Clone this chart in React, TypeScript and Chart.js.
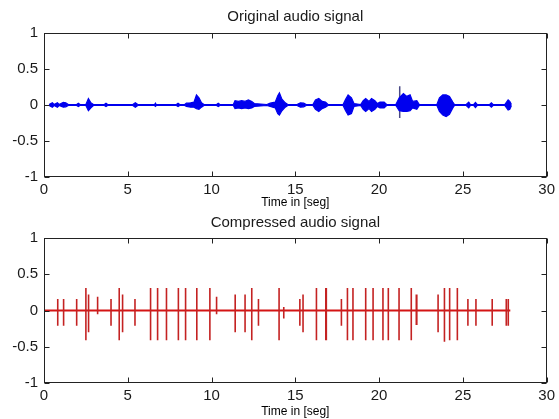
import React, { useEffect, useRef } from "react";
import { Chart, registerables } from "chart.js";

Chart.register(...registerables);

// ---------- data ----------
const xTicks = [0, 5, 10, 15, 20, 25, 30];
const yTicks = [-1, -0.5, 0, 0.5, 1];

const topTitle = "Original audio signal";
const bottomTitle = "Compressed audio signal";
const xLabel = "Time in [seg]";

// Envelope of the original audio signal (time in s, upper and lower amplitude)
const sigT = [
  0.3, 0.5, 0.6, 0.8, 0.9, 1.15, 1.3, 1.45, 1.95, 2.05, 2.15, 2.5, 2.65, 2.8, 2.95,
  3.6, 3.7, 3.8, 5.3, 5.45, 5.6, 6.6, 6.65, 6.7, 7.9, 8.0, 8.1, 8.4, 8.5, 8.75, 8.95,
  9.1, 9.25, 9.4, 9.55, 10.3, 10.4, 10.5, 11.3, 11.4, 11.6, 11.8, 12.0, 12.2, 12.4,
  12.55, 13.3, 13.5, 13.8, 13.95, 14.05, 14.2, 14.4, 14.55, 15.1, 15.3, 15.5, 15.65,
  16.05, 16.2, 16.4, 16.6, 16.8, 16.95, 17.85, 18.0, 18.15, 18.35, 18.5, 18.9, 19.05,
  19.2, 19.4, 19.55, 19.75, 19.9, 20.05, 20.3, 20.45, 21.0, 21.2, 21.45, 21.65, 21.85,
  22.0, 22.25, 22.4, 23.45, 23.6, 23.8, 24.0, 24.2, 24.4, 24.5, 25.2, 25.35, 25.45,
  25.65, 25.75, 25.85, 26.6, 26.7, 26.8, 27.5, 27.7, 27.8, 27.9,
];
const sigUp = [
  0.007, 0.03, 0.007, 0.03, 0.007, 0.035, 0.03, 0.007, 0.007, 0.025, 0.007, 0.007, 0.09, 0.03, 0.007,
  0.007, 0.025, 0.007, 0.007, 0.03, 0.007, 0.007, 0.025, 0.007, 0.007, 0.025, 0.007, 0.007, 0.025, 0.03, 0.04,
  0.14, 0.1, 0.03, 0.007, 0.007, 0.025, 0.007, 0.007, 0.06, 0.05, 0.06, 0.05, 0.07, 0.05,
  0.02, 0.007, 0.025, 0.04, 0.13, 0.17, 0.08, 0.03, 0.007, 0.007, 0.03, 0.025, 0.007,
  0.007, 0.07, 0.09, 0.05, 0.04, 0.007, 0.007, 0.08, 0.14, 0.1, 0.02, 0.007, 0.06,
  0.09, 0.05, 0.09, 0.06, 0.02, 0.04, 0.04, 0.007, 0.007, 0.1, 0.16, 0.12, 0.14,
  0.05, 0.06, 0.007, 0.007, 0.1, 0.14, 0.14, 0.12, 0.04, 0.007, 0.007, 0.04, 0.007,
  0.007, 0.035, 0.007, 0.007, 0.03, 0.007, 0.007, 0.07, 0.05, 0.007,
];
const sigDown = [
  -0.007, -0.03, -0.007, -0.03, -0.007, -0.03, -0.025, -0.007, -0.007, -0.02, -0.007, -0.007, -0.08, -0.04, -0.007,
  -0.007, -0.02, -0.007, -0.007, -0.03, -0.007, -0.007, -0.02, -0.007, -0.007, -0.02, -0.007, -0.007, -0.02, -0.03, -0.03,
  -0.05, -0.06, -0.03, -0.007, -0.007, -0.02, -0.007, -0.007, -0.05, -0.04, -0.05, -0.04, -0.05, -0.04,
  -0.02, -0.007, -0.02, -0.04, -0.12, -0.14, -0.08, -0.03, -0.007, -0.007, -0.03, -0.025, -0.007,
  -0.007, -0.06, -0.09, -0.05, -0.03, -0.007, -0.007, -0.08, -0.14, -0.12, -0.02, -0.007, -0.06,
  -0.09, -0.05, -0.09, -0.06, -0.02, -0.04, -0.04, -0.007, -0.007, -0.08, -0.09, -0.09, -0.08,
  -0.04, -0.06, -0.007, -0.007, -0.09, -0.14, -0.16, -0.13, -0.04, -0.007, -0.007, -0.04, -0.007,
  -0.007, -0.035, -0.007, -0.007, -0.03, -0.007, -0.007, -0.07, -0.06, -0.007,
];

// Single click/transient in the original signal
const clickT = [21.23];
const clickUp = [0.26];
const clickDown = [-0.18];

// Compressed signal: baseline extent and spikes
const compBaseT = [0, 27.83];
const spikeT = [
  0.82, 1.17, 1.95, 2.5, 2.66, 3.2, 4.0, 4.49, 4.69, 5.43, 6.36, 6.78, 7.31, 8.02, 8.45,
  9.12, 9.9, 10.3, 11.41, 12.0, 12.4, 12.8, 14.03, 14.31, 15.27, 15.46, 16.26, 16.82, 16.85,
  17.75, 18.11, 18.44, 19.2, 19.64, 20.23, 20.55, 21.19, 21.92, 22.22, 22.25, 23.52, 23.9,
  24.21, 24.67, 25.3, 25.78, 26.75, 27.59, 27.71,
];
const spikeUp = [
  0.16, 0.16, 0.16, 0.31, 0.22, 0.19, 0.16, 0.31, 0.22, 0.16, 0.31, 0.31, 0.31, 0.31, 0.31,
  0.31, 0.31, 0.19, 0.22, 0.22, 0.31, 0.16, 0.31, 0.05, 0.16, 0.22, 0.31, 0.31, 0.31,
  0.16, 0.31, 0.31, 0.31, 0.31, 0.31, 0.31, 0.31, 0.31, 0.22, 0.22, 0.22, 0.31,
  0.31, 0.31, 0.16, 0.16, 0.16, 0.16, 0.16,
];
const spikeDown = [
  -0.21, -0.21, -0.21, -0.41, -0.3, -0.05, -0.21, -0.41, -0.3, -0.21, -0.41, -0.41, -0.41, -0.41, -0.41,
  -0.41, -0.41, -0.05, -0.3, -0.3, -0.41, -0.21, -0.41, -0.11, -0.21, -0.3, -0.41, -0.41, -0.41,
  -0.21, -0.41, -0.41, -0.41, -0.41, -0.41, -0.41, -0.41, -0.41, -0.2, -0.2, -0.3, -0.43,
  -0.41, -0.41, -0.21, -0.21, -0.21, -0.21, -0.21,
];

// ---------- styling ----------
const FONT = "'Liberation Sans', Arial, Helvetica, sans-serif";
const TEXT = "#1a1a1a";
const BLUE = "#0000ee";
const RED = "#d41414";
const SPIKE = "#c42222";

const boxTicks = {
  id: "boxTicks",
  afterDatasetsDraw(chart: any) {
    const { ctx, chartArea: a, scales } = chart;
    ctx.save();
    ctx.strokeStyle = "#222";
    ctx.lineWidth = 1;
    const L = Math.round(a.left) + 0.5;
    const R = Math.round(a.right) - 0.5;
    const T = Math.round(a.top) + 0.5;
    const B = Math.round(a.bottom) - 0.5;
    ctx.strokeRect(L, T, R - L, B - T);
    ctx.beginPath();
    for (const v of xTicks) {
      const x = Math.round(scales.x.getPixelForValue(v)) + 0.5;
      ctx.moveTo(x, B);
      ctx.lineTo(x, B - 5);
      ctx.moveTo(x, T);
      ctx.lineTo(x, T + 5);
    }
    for (const v of yTicks) {
      const y = Math.round(scales.y.getPixelForValue(v)) + 0.5;
      ctx.moveTo(L, y);
      ctx.lineTo(L + 5, y);
      ctx.moveTo(R, y);
      ctx.lineTo(R - 5, y);
    }
    ctx.stroke();
    // title centred over the axes box
    const title = chart.options.plugins.axTitle;
    if (title && title.text) {
      ctx.fillStyle = TEXT;
      ctx.font = `15px ${FONT}`;
      ctx.textAlign = "center";
      ctx.textBaseline = "middle";
      ctx.fillText(title.text, (a.left + a.right) / 2, title.y);
    }
    ctx.restore();
  },
};

function makeOptions(title: string, titleY: number, topPad: number, xHeight: number) {
  return {
    responsive: false,
    animation: false as const,
    events: [],
    layout: { padding: { left: 0, right: 12, top: topPad, bottom: 0 } },
    plugins: {
      legend: { display: false },
      tooltip: { enabled: false },
      title: { display: false },
      axTitle: { text: title, y: titleY },
    },
    elements: { point: { radius: 0 }, line: { tension: 0 } },
    scales: {
      x: {
        type: "linear" as const,
        min: 0,
        max: 30,
        afterBuildTicks: (s: any) => {
          s.ticks = xTicks.map((v) => ({ value: v }));
        },
        afterFit: (s: any) => {
          s.height = xHeight;
        },
        grid: { display: false, drawTicks: false },
        border: { display: false },
        ticks: {
          color: TEXT,
          font: { family: FONT, size: 15 },
          padding: 4,
          maxRotation: 0,
          autoSkip: false,
          callback: (v: any) => String(v),
        },
        title: {
          display: true,
          text: xLabel,
          color: "#000",
          font: { family: FONT, size: 12 },
          padding: { top: 0, bottom: 0 },
        },
      },
      y: {
        min: -1,
        max: 1,
        afterBuildTicks: (s: any) => {
          s.ticks = yTicks.map((v) => ({ value: v }));
        },
        afterFit: (s: any) => {
          s.width = 44;
        },
        grid: { display: false, drawTicks: false },
        border: { display: false },
        ticks: {
          color: TEXT,
          font: { family: FONT, size: 15 },
          padding: 6,
          autoSkip: false,
          callback: (v: any) => String(v),
        },
      },
    },
  };
}

function TopChart() {
  const ref = useRef<HTMLCanvasElement>(null);
  useEffect(() => {
    const chart = new Chart(ref.current as HTMLCanvasElement, {
      type: "line",
      data: {
        datasets: [
          {
            data: sigT.map((t, i) => ({ x: t, y: sigUp[i] })),
            borderColor: BLUE,
            borderWidth: 1.2,
            backgroundColor: BLUE,
            fill: "+1",
            pointRadius: 0,
          },
          {
            data: sigT.map((t, i) => ({ x: t, y: sigDown[i] })),
            borderColor: BLUE,
            borderWidth: 1.2,
            fill: false,
            pointRadius: 0,
          },
          {
            data: [
              { x: clickT[0], y: clickUp[0] },
              { x: clickT[0], y: clickDown[0] },
            ],
            borderColor: "#4a4a86",
            borderWidth: 1.5,
            fill: false,
            pointRadius: 0,
          },
        ],
      },
      options: makeOptions(topTitle, 17, 33, 33) as any,
      plugins: [boxTicks],
    });
    return () => chart.destroy();
  }, []);
  return (
    <canvas
      ref={ref}
      width={559}
      height={210}
      style={{ position: "absolute", left: 0, top: 0, width: 559, height: 210 }}
    />
  );
}

function BottomChart() {
  const ref = useRef<HTMLCanvasElement>(null);
  useEffect(() => {
    const spikes: any[] = [];
    spikeT.forEach((t, i) => {
      spikes.push({ x: t, y: spikeUp[i] });
      spikes.push({ x: t, y: spikeDown[i] });
      spikes.push({ x: t, y: null });
    });
    const chart = new Chart(ref.current as HTMLCanvasElement, {
      type: "line",
      data: {
        datasets: [
          {
            data: spikes,
            borderColor: SPIKE,
            borderWidth: 1.6,
            fill: false,
            pointRadius: 0,
            spanGaps: false,
          },
          {
            data: compBaseT.map((t) => ({ x: t, y: 0 })),
            borderColor: RED,
            borderWidth: 2,
            fill: false,
            pointRadius: 0,
          },
        ],
      },
      options: makeOptions(bottomTitle, 13, 28, 36) as any,
      plugins: [boxTicks],
    });
    return () => chart.destroy();
  }, []);
  return (
    <canvas
      ref={ref}
      width={559}
      height={209}
      style={{ position: "absolute", left: 0, top: 210, width: 559, height: 209 }}
    />
  );
}

export default function App() {
  return (
    <div
      style={{
        position: "absolute",
        left: 0,
        top: 0,
        width: 559,
        height: 419,
        background: "#ffffff",
        overflow: "hidden",
      }}
    >
      <TopChart />
      <BottomChart />
    </div>
  );
}
